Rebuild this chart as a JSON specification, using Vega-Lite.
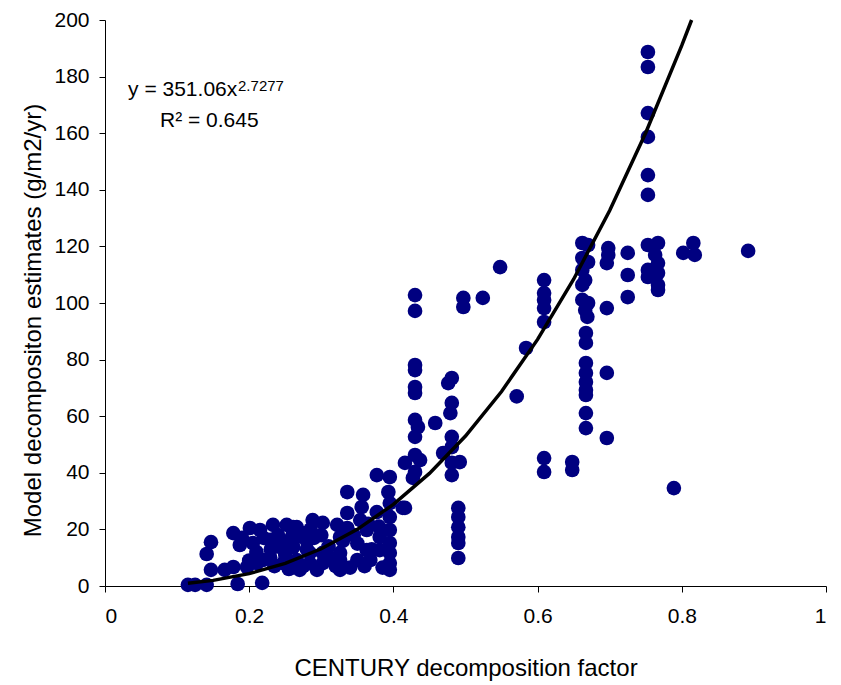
{
  "$schema": "https://vega.github.io/schema/vega-lite/v6.json",
  "width": 721,
  "height": 566,
  "autosize": "none",
  "padding": {"left": 105, "top": 20, "right": 15, "bottom": 99},
  "background": "white",
  "config": {
    "view": {"stroke": null},
    "font": "Liberation Sans",
    "axis": {"grid": false, "domainColor": "#000", "tickColor": "#000", "labelColor": "#000", "titleColor": "#000", "labelFont": "Liberation Sans", "titleFont": "Liberation Sans", "titleFontWeight": "normal", "labelFontSize": 21, "titleFontSize": 24, "tickSize": 6}
  },
  "datasets": {
    "pts": [
      {"x":0.115,"y":0.4},{"x":0.125,"y":0.4},{"x":0.141,"y":0.4},{"x":0.184,"y":0.7},{"x":0.218,"y":1.1},
      {"x":0.147,"y":5.7},{"x":0.141,"y":11.3},{"x":0.147,"y":15.5},{"x":0.166,"y":5.7},{"x":0.178,"y":6.7},{"x":0.178,"y":18.7},{"x":0.187,"y":14.5},{"x":0.201,"y":20.5},{"x":0.215,"y":19.8},{"x":0.205,"y":15.2},{"x":0.197,"y":6.7},{"x":0.211,"y":8.1},{"x":0.219,"y":9.2},{"x":0.233,"y":21.6},{"x":0.252,"y":21.6},{"x":0.229,"y":16.3},{"x":0.243,"y":13.8},{"x":0.229,"y":10.2},{"x":0.247,"y":8.1},{"x":0.261,"y":20.8},{"x":0.261,"y":13.8},{"x":0.266,"y":9.2},
      {"x":0.22,"y":17},{"x":0.24,"y":18},{"x":0.255,"y":16},{"x":0.27,"y":19},{"x":0.21,"y":12},{"x":0.235,"y":7},{"x":0.255,"y":6},{"x":0.275,"y":7},{"x":0.28,"y":16},{"x":0.29,"y":17},
      {"x":0.31,"y":14},{"x":0.33,"y":16},{"x":0.35,"y":15},{"x":0.37,"y":13},{"x":0.38,"y":21},{"x":0.32,"y":7},{"x":0.34,"y":6.5},{"x":0.36,"y":7},{"x":0.385,"y":6.5},{"x":0.23,"y":13},{"x":0.25,"y":11},{"x":0.28,"y":13},{"x":0.3,"y":18},{"x":0.31,"y":10},{"x":0.2,"y":9},{"x":0.19,"y":17},{"x":0.26,"y":18},{"x":0.285,"y":20},{"x":0.345,"y":18},{"x":0.365,"y":22},
      {"x":0.377,"y":39.2},{"x":0.395,"y":38.5},{"x":0.336,"y":33.2},{"x":0.358,"y":32.2},{"x":0.393,"y":33.2},{"x":0.395,"y":29.3},{"x":0.413,"y":27.6},{"x":0.356,"y":27.9},{"x":0.336,"y":25.8},{"x":0.377,"y":26.1},{"x":0.395,"y":24.4},{"x":0.288,"y":23.3},{"x":0.302,"y":22.3},{"x":0.322,"y":21.6},{"x":0.336,"y":20.5},{"x":0.354,"y":23.3},{"x":0.363,"y":19.8},{"x":0.381,"y":17.3},{"x":0.395,"y":19.8},{"x":0.266,"y":20.8},{"x":0.266,"y":17.3},{"x":0.395,"y":15.2},{"x":0.326,"y":17.3},{"x":0.284,"y":11.7},{"x":0.302,"y":11.7},{"x":0.326,"y":11.7},{"x":0.363,"y":12.7},{"x":0.381,"y":12.7},{"x":0.395,"y":11.7},{"x":0.266,"y":8.1},{"x":0.284,"y":8.1},{"x":0.302,"y":8.1},{"x":0.326,"y":9.2},{"x":0.35,"y":9.2},{"x":0.368,"y":9.2},{"x":0.395,"y":8.1},{"x":0.27,"y":5.7},{"x":0.294,"y":5.7},{"x":0.326,"y":5.7},{"x":0.395,"y":5.7},
      {"x":0.43,"y":102.8},{"x":0.43,"y":97.2},{"x":0.43,"y":78.1},{"x":0.43,"y":76.3},{"x":0.43,"y":70.3},{"x":0.43,"y":68.2},{"x":0.43,"y":58.7},{"x":0.434,"y":56.2},{"x":0.43,"y":52.7},{"x":0.43,"y":46.3},{"x":0.437,"y":44.5},{"x":0.416,"y":43.5},{"x":0.43,"y":40.3},{"x":0.427,"y":38.2},{"x":0.416,"y":27.6},
      {"x":0.458,"y":57.6},
      {"x":0.481,"y":73.5},{"x":0.476,"y":71.7},{"x":0.481,"y":64.7},{"x":0.479,"y":61.1},{"x":0.481,"y":52.7},{"x":0.481,"y":49.1},{"x":0.469,"y":47.0},{"x":0.481,"y":43.5},{"x":0.492,"y":43.8},{"x":0.481,"y":39.2},
      {"x":0.49,"y":27.6},{"x":0.49,"y":24.4},{"x":0.49,"y":20.8},{"x":0.49,"y":17.3},{"x":0.49,"y":15.2},{"x":0.49,"y":9.9},
      {"x":0.497,"y":101.8},{"x":0.497,"y":98.6},{"x":0.524,"y":101.8},{"x":0.548,"y":112.7},{"x":0.584,"y":84.1},{"x":0.571,"y":67.0},
      {"x":0.609,"y":108.1},{"x":0.609,"y":103.5},{"x":0.609,"y":101.1},{"x":0.609,"y":98.2},{"x":0.609,"y":93.3},{"x":0.609,"y":45.2},{"x":0.609,"y":40.3},
      {"x":0.648,"y":43.8},{"x":0.648,"y":41.0},
      {"x":0.662,"y":121.2},{"x":0.67,"y":120.5},{"x":0.662,"y":115.9},{"x":0.67,"y":114.5},{"x":0.662,"y":111.7},{"x":0.666,"y":108.1},{"x":0.662,"y":106.4},{"x":0.662,"y":101.1},{"x":0.67,"y":100.0},{"x":0.666,"y":97.5},{"x":0.669,"y":95.1},{"x":0.667,"y":89.4},{"x":0.667,"y":85.9},{"x":0.667,"y":78.8},{"x":0.667,"y":75.3},{"x":0.667,"y":72.1},{"x":0.667,"y":69.3},{"x":0.667,"y":67.5},{"x":0.667,"y":61.1},{"x":0.667,"y":55.8},
      {"x":0.698,"y":119.4},{"x":0.698,"y":117.0},{"x":0.696,"y":114.1},{"x":0.696,"y":98.2},{"x":0.696,"y":75.3},{"x":0.696,"y":52.3},
      {"x":0.725,"y":117.7},{"x":0.725,"y":109.9},{"x":0.725,"y":102.1},
      {"x":0.753,"y":188.7},{"x":0.753,"y":183.4},{"x":0.753,"y":167.1},{"x":0.753,"y":158.7},{"x":0.753,"y":145.2},{"x":0.753,"y":138.2},
      {"x":0.753,"y":120.5},{"x":0.767,"y":121.2},{"x":0.763,"y":117.0},{"x":0.767,"y":114.1},{"x":0.753,"y":111.7},{"x":0.753,"y":109.2},{"x":0.767,"y":110.6},{"x":0.767,"y":106.4},{"x":0.767,"y":104.6},
      {"x":0.802,"y":117.7},{"x":0.816,"y":121.2},{"x":0.818,"y":117.0},{"x":0.892,"y":118.4},{"x":0.789,"y":34.6}
    ],
    "fit": [
      {"x":0.115,"y":0.96},{"x":0.15,"y":1.99},{"x":0.2,"y":4.36},{"x":0.25,"y":8.0},{"x":0.3,"y":13.16},{"x":0.35,"y":20.03},{"x":0.4,"y":28.83},{"x":0.45,"y":39.77},{"x":0.5,"y":53.0},{"x":0.55,"y":68.73},{"x":0.6,"y":87.14},{"x":0.65,"y":108.41},{"x":0.7,"y":132.7},{"x":0.75,"y":160.18},{"x":0.8,"y":191.0},{"x":0.8136,"y":200.0}
    ]
  },
  "layer": [
    {
      "data": {"name": "pts"},
      "mark": {"type": "point", "filled": true, "shape": "circle", "size": 215, "color": "#000080", "opacity": 1, "strokeWidth": 0},
      "encoding": {
        "x": {"field": "x", "type": "quantitative", "scale": {"domain": [0, 1], "nice": false, "zero": false},
          "axis": {"values": [0, 0.2, 0.4, 0.6, 0.8, 1], "format": "~g", "title": "CENTURY decomposition factor", "labelPadding": 13, "titleBaseline": "alphabetic", "titleY": 89}},
        "y": {"field": "y", "type": "quantitative", "scale": {"domain": [0, 200], "nice": false},
          "axis": {"values": [0, 20, 40, 60, 80, 100, 120, 140, 160, 180, 200], "title": "Model decompositon estimates (g/m2/yr)", "labelPadding": 10, "titlePadding": 8, "titleY": 300}}
      }
    },
    {
      "data": {"name": "fit"},
      "mark": {"type": "line", "color": "#000", "strokeWidth": 3.5},
      "encoding": {
        "x": {"field": "x", "type": "quantitative"},
        "y": {"field": "y", "type": "quantitative"}
      }
    },
    {
      "data": {"values": [{}]},
      "mark": {"type": "text", "align": "left", "baseline": "alphabetic", "fontSize": 21, "color": "#000", "text": "y = 351.06x"},
      "encoding": {"x": {"datum": 0.032}, "y": {"datum": 173}}
    },
    {
      "data": {"values": [{}]},
      "mark": {"type": "text", "align": "left", "baseline": "alphabetic", "fontSize": 15, "color": "#000", "text": "2.7277"},
      "encoding": {"x": {"datum": 0.1845}, "y": {"datum": 175}}
    },
    {
      "data": {"values": [{}]},
      "mark": {"type": "text", "align": "left", "baseline": "alphabetic", "fontSize": 21, "color": "#000", "text": "R² = 0.645"},
      "encoding": {"x": {"datum": 0.0763}, "y": {"datum": 162.2}}
    }
  ]
}
